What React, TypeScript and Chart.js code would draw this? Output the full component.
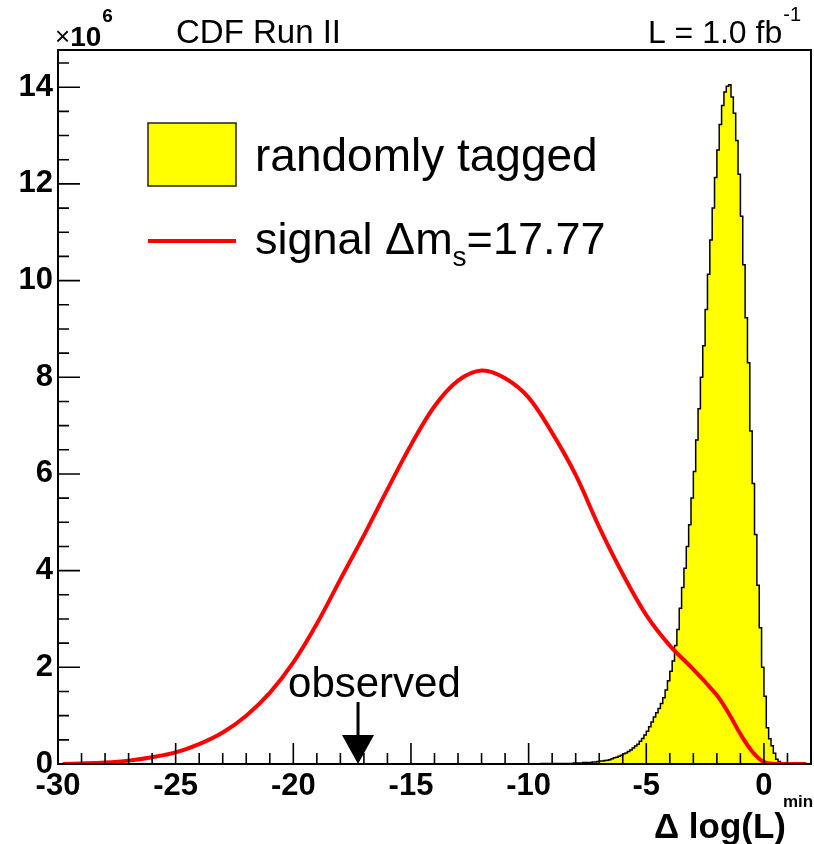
import React, { useEffect, useRef } from "react";
import { Chart, registerables } from "chart.js";

Chart.register(...registerables);

// ---------- data ----------
const X_MIN = -30;
const X_MAX = 2;
const Y_MAX = 14.77; // in units of 10^6

const xTickValues = [-30, -25, -20, -15, -10, -5, 0];
const yTickValues = [0, 2, 4, 6, 8, 10, 12, 14];

// "randomly tagged" histogram, bins of width 0.1 starting at -9.5 (units of 10^6)
const histStart = -9.5;
const histBinWidth = 0.1;
const histValues = [
  0.01, 0.01, 0.01, 0.01, 0.01, 0.01, 0.01, 0.01, 0.01, 0.01,
  0.01, 0.01, 0.01, 0.01, 0.02, 0.02, 0.02, 0.02, 0.03, 0.03,
  0.03, 0.03, 0.04, 0.04, 0.05, 0.06, 0.06, 0.07, 0.08, 0.09,
  0.11, 0.13, 0.14, 0.16, 0.18, 0.21, 0.23, 0.26, 0.29, 0.33,
  0.37, 0.41, 0.47, 0.53, 0.6, 0.68, 0.77, 0.87, 0.97, 1.06,
  1.15, 1.25, 1.37, 1.53, 1.72, 1.92, 2.13, 2.45, 2.78, 3.22,
  3.65, 4.05, 4.5, 4.95, 5.5, 6.05, 6.7, 7.35, 8.0, 8.65,
  9.4, 10.13, 10.84, 11.5, 12.13, 12.7, 13.23, 13.62, 13.9, 14.02,
  14.05, 13.8, 13.46, 12.9, 12.2, 11.33, 10.33, 9.23, 8.3, 6.89,
  5.8, 4.75, 3.7, 2.82, 2.0, 1.4, 0.75, 0.52, 0.38, 0.22,
  0.1, 0.05, 0.02, 0.01,
];

// signal Δms = 17.77 curve
const signalX = [
  -29.8, -29, -28, -27, -26, -25, -24, -23, -22, -21, -20, -19, -18, -17, -16,
  -15, -14, -13, -12, -11, -10, -9, -8, -7, -6, -5, -4, -3, -2,
  -1.5, -1, -0.5, 0, 0.5, 1, 1.8,
];
const signalY = [
  0.0, 0.01, 0.03, 0.07, 0.14, 0.24, 0.41, 0.65, 1.0, 1.47, 2.1, 2.9, 3.82, 4.73, 5.68,
  6.6, 7.4, 7.93, 8.14, 7.98, 7.58, 6.85, 5.98, 4.9, 3.93, 3.08, 2.45, 1.96, 1.42,
  1.05, 0.62, 0.26, 0.04, 0.0, 0.0, 0.0,
];

const observedValue = -17.25;

const legendHistLabel = "randomly tagged";
const legendSignalLabel = "signal ";
const titleLeft = "CDF Run II";
const titleRight = "L = 1.0 fb";
const titleRightSup = "-1";
const xAxisTitle = "\u0394 log(L)";
const xAxisTitleSup = "min";

const FONT = '"Liberation Sans", Arial, Helvetica, sans-serif';

function histPoints() {
  const pts: { x: number; y: number }[] = [{ x: histStart, y: 0 }];
  histValues.forEach((v, i) => {
    const a = histStart + i * histBinWidth;
    const b = histStart + (i + 1) * histBinWidth;
    pts.push({ x: a, y: v });
    pts.push({ x: b, y: v });
  });
  pts.push({ x: histStart + histValues.length * histBinWidth, y: 0 });
  return pts;
}

const rootPlugin = {
  id: "rootDecor",
  afterDatasetsDraw(chart: any) {
    const { ctx, chartArea: a, scales } = chart;
    const xs = scales.x;
    const ys = scales.y;
    ctx.save();

    // frame
    ctx.strokeStyle = "#000";
    ctx.lineWidth = 2;
    ctx.strokeRect(a.left, a.top, a.right - a.left, a.bottom - a.top);

    // y ticks (inward)
    ctx.lineWidth = 1.6;
    ctx.beginPath();
    const nY = Math.floor(Y_MAX * 2 + 1e-6);
    for (let i = 0; i <= nY; i++) {
      const v = i * 0.5;
      const y = ys.getPixelForValue(v);
      const len = i % 4 === 0 ? 22 : 11;
      ctx.moveTo(a.left, y);
      ctx.lineTo(a.left + len, y);
    }
    // x ticks (inward)
    for (let v = X_MIN; v <= X_MAX; v++) {
      const x = xs.getPixelForValue(v);
      const len = v % 5 === 0 ? 21 : 11;
      ctx.moveTo(x, a.bottom);
      ctx.lineTo(x, a.bottom - len);
    }
    ctx.stroke();

    // legend
    const lx = a.left + 90;
    ctx.fillStyle = "#ffff00";
    ctx.fillRect(lx, 123, 88, 63);
    ctx.strokeStyle = "#222";
    ctx.lineWidth = 1.5;
    ctx.strokeRect(lx, 123, 88, 63);
    ctx.strokeStyle = "#ff0000";
    ctx.lineWidth = 4;
    ctx.beginPath();
    ctx.moveTo(lx, 241);
    ctx.lineTo(lx + 88, 241);
    ctx.stroke();

    ctx.fillStyle = "#000";
    ctx.textBaseline = "alphabetic";
    ctx.textAlign = "left";
    ctx.font = `46px ${FONT}`;
    ctx.fillText(legendHistLabel, 255, 171);
    ctx.font = `45px ${FONT}`;
    let tx = 255;
    ctx.fillText(legendSignalLabel, tx, 254);
    tx += ctx.measureText(legendSignalLabel).width;
    ctx.fillText("\u0394m", tx, 254);
    tx += ctx.measureText("\u0394m").width;
    ctx.font = `28px ${FONT}`;
    ctx.fillText("s", tx, 266);
    tx += ctx.measureText("s").width;
    ctx.font = `45px ${FONT}`;
    ctx.fillText("=17.77", tx, 254);

    // top texts
    ctx.font = `26px ${FONT}`;
    ctx.fillText("\u00d7", 55, 45);
    let hx = 55 + ctx.measureText("\u00d7").width;
    ctx.font = `bold 28px ${FONT}`;
    ctx.fillText("10", hx, 46);
    hx += ctx.measureText("10").width + 1;
    ctx.font = `bold 19px ${FONT}`;
    ctx.fillText("6", hx, 22);

    ctx.font = `33px ${FONT}`;
    ctx.fillText(titleLeft, 176, 43);
    ctx.font = `20px ${FONT}`;
    const supW = ctx.measureText(titleRightSup).width;
    ctx.fillText(titleRightSup, 801 - supW, 21);
    ctx.font = `32px ${FONT}`;
    ctx.textAlign = "right";
    ctx.fillText(titleRight, 801 - supW - 1, 43);

    // x-axis title
    ctx.textAlign = "left";
    ctx.font = `bold 17px ${FONT}`;
    ctx.fillText(xAxisTitleSup, 783, 807);
    ctx.textAlign = "right";
    ctx.font = `bold 35px ${FONT}`;
    ctx.fillText(xAxisTitle, 786, 838);

    // observed arrow
    const ox = xs.getPixelForValue(observedValue);
    const yTip = ys.getPixelForValue(0);
    const yBase = yTip - 29;
    ctx.strokeStyle = "#000";
    ctx.lineWidth = 3;
    ctx.beginPath();
    ctx.moveTo(ox, yTip - 62);
    ctx.lineTo(ox, yBase);
    ctx.stroke();
    ctx.fillStyle = "#000";
    ctx.beginPath();
    ctx.moveTo(ox - 16, yBase);
    ctx.lineTo(ox + 16, yBase);
    ctx.lineTo(ox, yTip);
    ctx.closePath();
    ctx.fill();
    ctx.font = `42px ${FONT}`;
    ctx.textAlign = "left";
    ctx.fillText("observed", ox - 70, yTip - 67);

    ctx.restore();
  },
};

export default function App() {
  const ref = useRef<HTMLCanvasElement | null>(null);

  useEffect(() => {
    if (!ref.current) return;
    const chart = new Chart(ref.current, {
      type: "line",
      data: {
        datasets: [
          {
            label: "signal",
            data: signalX.map((x, i) => ({ x, y: signalY[i] })),
            borderColor: "#ff0000",
            borderWidth: 4,
            pointRadius: 0,
            fill: false,
            tension: 0.35,
          },
          {
            label: "randomly tagged",
            data: histPoints(),
            borderColor: "#000000",
            borderWidth: 1.5,
            backgroundColor: "#ffff00",
            pointRadius: 0,
            fill: "origin",
            tension: 0,
          },
        ],
      },
      options: {
        animation: false,
        responsive: false,
        maintainAspectRatio: false,
        devicePixelRatio: 1,
        layout: { padding: { top: 50, right: 3, left: 0, bottom: 0 } },
        plugins: {
          legend: { display: false },
          tooltip: { enabled: false },
        },
        scales: {
          x: {
            type: "linear",
            min: X_MIN,
            max: X_MAX,
            grid: { display: false, drawTicks: false },
            border: { display: false },
            afterBuildTicks: (s: any) => {
              s.ticks = xTickValues.map((v) => ({ value: v }));
            },
            afterFit: (s: any) => {
              s.height = 80;
            },
            ticks: {
              color: "#000",
              padding: 4,
              maxRotation: 0,
              autoSkip: false,
              font: { family: FONT, size: 31, weight: "bold" },
            },
          },
          y: {
            type: "linear",
            min: 0,
            max: Y_MAX,
            grid: { display: false, drawTicks: false },
            border: { display: false },
            afterBuildTicks: (s: any) => {
              s.ticks = yTickValues.map((v) => ({ value: v }));
            },
            afterFit: (s: any) => {
              s.width = 58;
            },
            ticks: {
              color: "#000",
              padding: 5,
              font: { family: FONT, size: 31, weight: "bold" },
            },
          },
        },
      },
      plugins: [rootPlugin],
    } as any);
    return () => chart.destroy();
  }, []);

  return (
    <div style={{ position: "fixed", left: 0, top: 0, width: 814, height: 844, background: "#fff" }}>
      <canvas ref={ref} width={814} height={844} style={{ width: 814, height: 844, display: "block" }} />
    </div>
  );
}
